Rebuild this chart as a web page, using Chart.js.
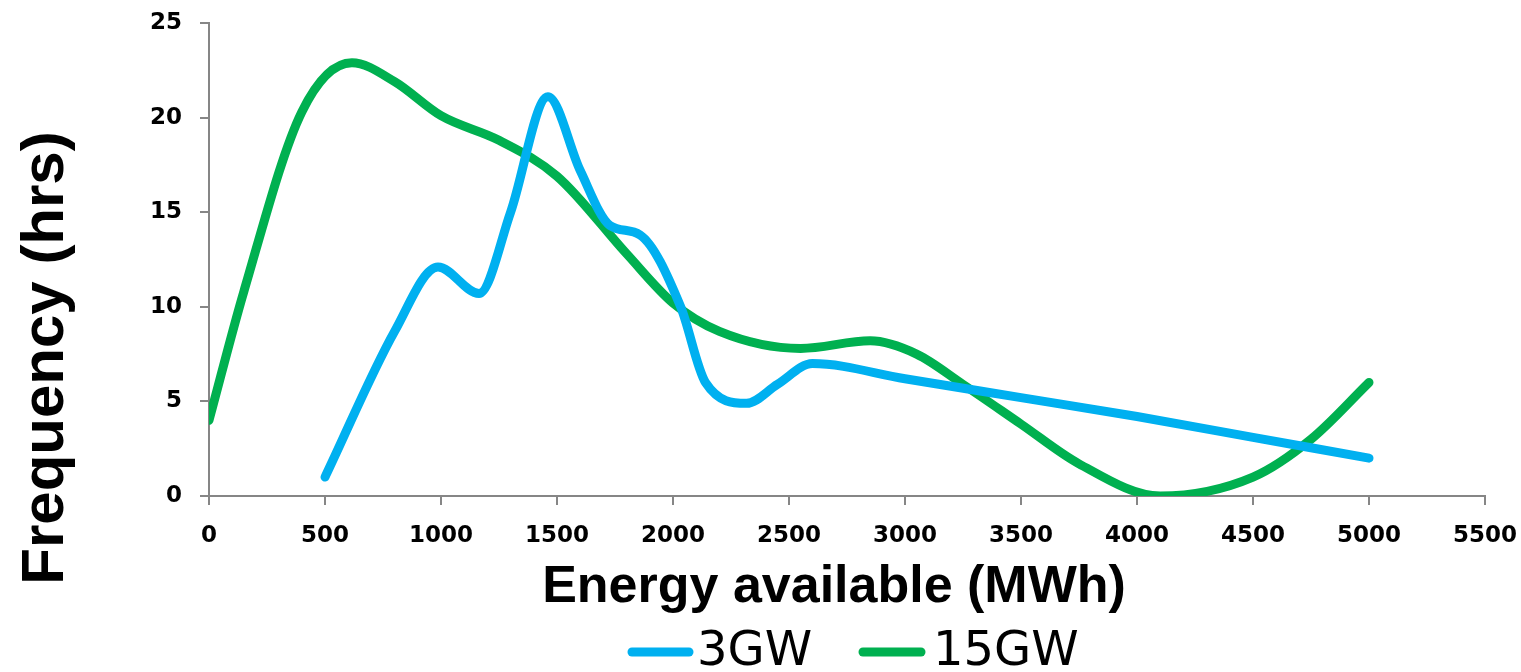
<!DOCTYPE html>
<html>
<head>
<meta charset="utf-8">
<script src="https://cdn.jsdelivr.net/npm/chart.js@4"></script>
<style>
  html, body { margin: 0; padding: 0; background: #fff; }
  #wrap { width: 1521px; height: 672px; }
</style>
</head>
<body>
<div id="wrap"><canvas id="freqChart"></canvas></div>
<script>
// Datos (energia MWh -> frecuencia hrs)
const seriesNames = ['3GW', '15GW'];
const seriesColors = ['#00B0F0', '#00B050'];

const energy3GW = [500, 800, 987, 1164, 1300, 1461, 1600, 1728, 1858, 2033, 2140, 2317, 2450, 2601, 3000, 3500, 4000, 4500, 5000];
const freq3GW   = [1, 8.7, 12.1, 10.7, 15, 21.1, 17.2, 14.3, 13.8, 10, 6.0, 4.9, 5.9, 7.0, 6.2, 5.2, 4.2, 3.1, 2];

const energy15GW = [0, 150, 400, 616, 800, 1000, 1250, 1500, 1800, 2000, 2200, 2550, 2850, 3050, 3250, 3500, 3750, 4100, 4500, 4750, 5000];
const freq15GW   = [4, 10.8, 20.3, 22.9, 21.9, 20.1, 18.8, 16.9, 12.8, 10.2, 8.7, 7.8, 8.2, 7.5, 5.9, 3.8, 1.7, 0, 1.0, 3.0, 6];

const xTicks = [0, 500, 1000, 1500, 2000, 2500, 3000, 3500, 4000, 4500, 5000, 5500];
const yTicks = [0, 5, 10, 15, 20, 25];

const xTitle = 'Energy available (MWh)';
const yTitle = 'Frequency (hrs)';

const toPoints = (xs, ys) => xs.map((x, i) => ({ x: x, y: ys[i] }));

// titulos y leyenda dibujados a mano para clavar posiciones
const textsPlugin = {
  id: 'texts',
  afterDraw(chart) {
    const ctx = chart.ctx;
    ctx.save();
    ctx.fillStyle = '#000';

    // titulo eje Y
    ctx.translate(63, 358);
    ctx.rotate(-Math.PI / 2);
    ctx.font = 'bold 60px "Liberation Sans"';
    ctx.textAlign = 'center';
    ctx.textBaseline = 'alphabetic';
    ctx.fillText(yTitle, 0, 0);
    ctx.setTransform(1, 0, 0, 1, 0, 0);

    // titulo eje X
    ctx.font = 'bold 52px "Liberation Sans"';
    ctx.textAlign = 'center';
    ctx.fillText(xTitle, 834, 602);

    // leyenda
    const items = [
      { x0: 632, x1: 689, tx: 697 },
      { x0: 863, x1: 921, tx: 933 }
    ];
    ctx.font = '48px "DejaVu Sans"';
    ctx.textAlign = 'left';
    chart.data.datasets.forEach((ds, i) => {
      const it = items[i];
      ctx.strokeStyle = ds.borderColor;
      ctx.lineWidth = 9;
      ctx.lineCap = 'round';
      ctx.beginPath();
      ctx.moveTo(it.x0, 652);
      ctx.lineTo(it.x1, 652);
      ctx.stroke();
      ctx.fillText(ds.label, it.tx, 665);
    });
    ctx.restore();
  }
};

const ctx = document.getElementById('freqChart').getContext('2d');
new Chart(ctx, {
  type: 'line',
  data: {
    datasets: [
      {
        label: seriesNames[0],
        data: toPoints(energy3GW, freq3GW),
        borderColor: seriesColors[0],
        backgroundColor: seriesColors[0],
        borderWidth: 9,
        borderCapStyle: 'round',
        pointRadius: 0,
        cubicInterpolationMode: 'monotone',
        fill: false
      },
      {
        label: seriesNames[1],
        data: toPoints(energy15GW, freq15GW),
        borderColor: seriesColors[1],
        backgroundColor: seriesColors[1],
        borderWidth: 9,
        borderCapStyle: 'round',
        pointRadius: 0,
        cubicInterpolationMode: 'monotone',
        fill: false
      }
    ]
  },
  options: {
    responsive: true,
    maintainAspectRatio: false,
    animation: false,
    layout: { padding: { left: 0, top: 23, right: 36, bottom: 116 } },
    plugins: {
      legend: { display: false },
      tooltip: { enabled: false }
    },
    scales: {
      x: {
        type: 'linear',
        min: 0,
        max: 5500,
        afterBuildTicks: s => { s.ticks = xTicks.map(v => ({ value: v })); },
        afterFit: s => { s.height = 60; s.paddingLeft = 0; s.paddingRight = 0; },
        grid: { drawOnChartArea: false, drawTicks: true, tickLength: 9, color: '#868686', lineWidth: 2 },
        border: { color: '#868686', width: 2 },
        ticks: {
          color: '#000',
          padding: 17,
          maxRotation: 0,
          callback: v => String(v),
          font: { family: '"DejaVu Sans"', size: 23, weight: 'bold' }
        }
      },
      y: {
        min: 0,
        max: 25,
        afterBuildTicks: s => { s.ticks = yTicks.map(v => ({ value: v })); },
        afterFit: s => { s.width = 209; s.paddingTop = 0; s.paddingBottom = 0; },
        grid: { drawOnChartArea: false, drawTicks: true, tickLength: 9, color: '#868686', lineWidth: 2 },
        border: { color: '#868686', width: 2 },
        ticks: {
          color: '#000',
          padding: 18,
          callback: v => String(v),
          font: { family: '"DejaVu Sans"', size: 23, weight: 'bold' }
        }
      }
    }
  },
  plugins: [textsPlugin]
});
</script>
</body>
</html>
